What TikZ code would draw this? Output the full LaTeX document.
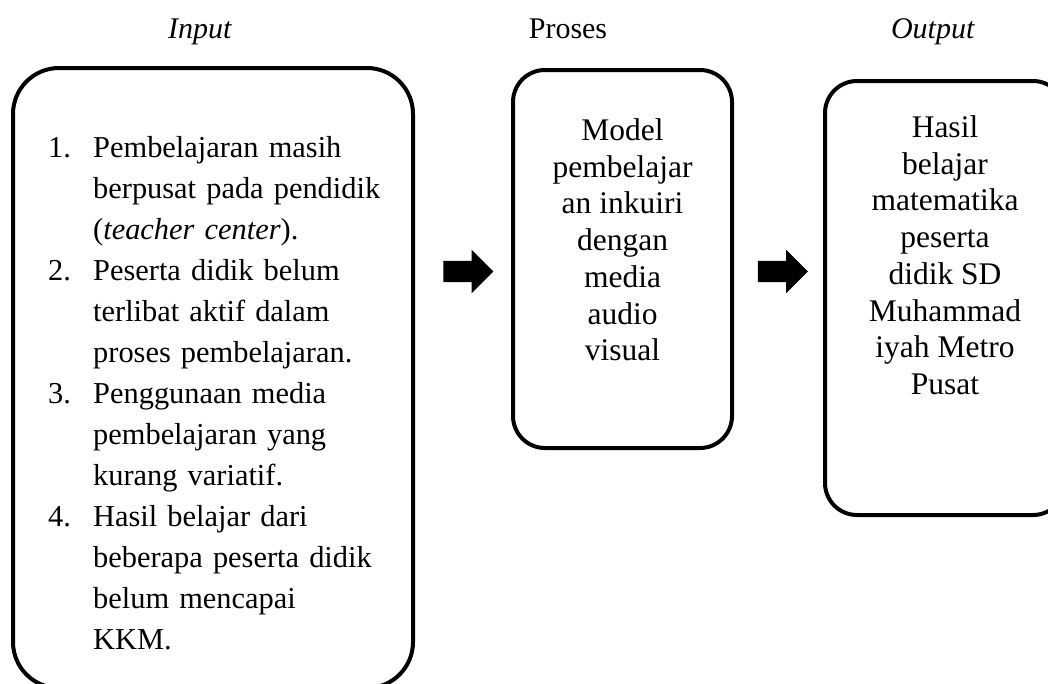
\documentclass[tikz,border=0pt]{standalone}
\usepackage{fontspec}
\setmainfont{Liberation Serif}
\usepackage{enumitem}
\usetikzlibrary{shapes.arrows,positioning}

\begin{document}
\begin{tikzpicture}[x=1pt, y=-1pt,
		every node/.style={align=center, inner sep=0pt},
		roundbox/.style={draw, line width=4pt, rounded corners=32pt},   % Boxes for input, process and output
		headText/.style={font=\fontsize{30}{36}\selectfont, anchor=base},
		boxText/.style={font=\fontsize{31.5}{36.7}\selectfont, anchor=north},
		listText/.style={font=\fontsize{30.4}{41}\selectfont, anchor=north west, align=left, text width=340pt},
		blockArrow/.style={single arrow, fill=black, minimum height=50pt, single arrow head extend=11pt, text height=10.5pt, text depth=10.5pt, inner sep=0pt}
	]
	\useasboundingbox (0,0) rectangle (1048,683);

	% Headings
	\node[headText] (hIn) at (200,38) {\textit{Input}};
	\node[headText] (hPro) at (568,38) {Proses};
	\node[headText] (hOut) at (933,38) {\textit{Output}};

	% Boxes
	\node[roundbox, rounded corners=46pt, minimum width=400pt, minimum height=620pt] (inBox) at (213,378) {};
	\node[roundbox, minimum width=219pt, minimum height=378pt] (proBox) at (622.5,259) {};
	\node[roundbox, minimum width=240pt, minimum height=434pt] (outBox) at (945,298) {};

	% Input list
	\node[listText] (inList) at (48,116) {%
		\begin{enumerate}[nosep, label=\arabic*., leftmargin=45pt, labelwidth=45pt, labelsep=0pt, align=left]
			\item Pembelajaran masih\newline berpusat pada pendidik\newline (\textit{teacher center}).
			\item Peserta didik belum\newline terlibat aktif dalam\newline proses pembelajaran.
			\item Penggunaan media\newline pembelajaran yang\newline kurang variatif.
			\item Hasil belajar dari\newline beberapa peserta didik\newline belum mencapai\newline KKM.
		\end{enumerate}};

	% Process and output texts
	\node[boxText] (proText) at (622.5,118.5) {Model\\pembelajar\\an inkuiri\\dengan\\media\\audio\\visual};
	\node[boxText] (outText) at (945,115.5) {Hasil\\belajar\\matematika\\peserta\\didik SD\\Muhammad\\iyah Metro\\Pusat};

	% Arrows between the boxes
	\node[blockArrow] (arrA) at (463,271.5) {};
	\node[blockArrow] (arrB) at (777.5,271.5) {};
\end{tikzpicture}
\end{document}
